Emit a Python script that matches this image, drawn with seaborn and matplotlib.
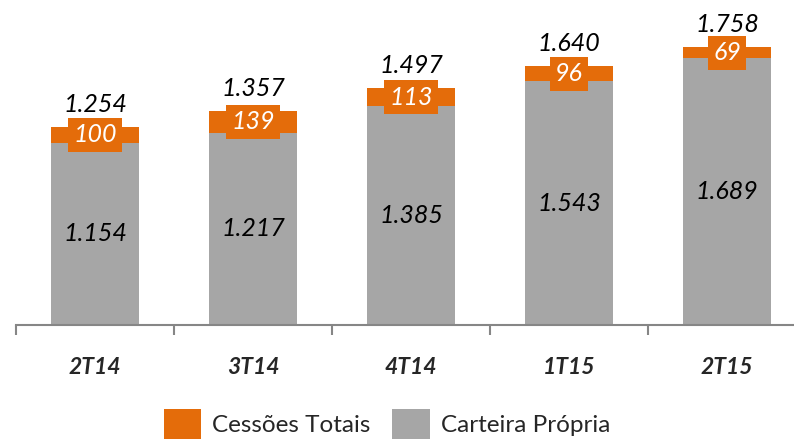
import matplotlib
matplotlib.use("Agg")
import matplotlib.pyplot as plt
import seaborn as sns
import pandas as pd
from matplotlib.patches import Patch

categories = ["2T14", "3T14", "4T14", "1T15", "2T15"]
carteira_propria = [1154, 1217, 1385, 1543, 1689]
cessoes_totais = [100, 139, 113, 96, 69]
totais = [1254, 1357, 1497, 1640, 1758]

ORANGE = "#E46C0A"
GREY = "#A6A6A6"
AXIS = "#868686"

sns.set_theme(style="white")
plt.rcParams["font.family"] = ["Lato", "DejaVu Sans"]

def fmt(v):
    return f"{v:,}".replace(",", ".")

df = pd.DataFrame({"cat": categories, "carteira": carteira_propria,
                   "cessoes": cessoes_totais, "total": totais})
df["stack"] = df["carteira"] + df["cessoes"]

fig = plt.figure(figsize=(7.94, 4.40), dpi=100)
px_per_unit = 198 / 1254
ymax = 2000
h_px = ymax * px_per_unit
ax = fig.add_axes([16 / 794, 115 / 440, 790 / 794, h_px / 440])

sns.barplot(data=df, x="cat", y="stack", color=ORANGE, width=0.557,
            saturation=1, ax=ax, edgecolor="none")
sns.barplot(data=df, x="cat", y="carteira", color=GREY, width=0.557,
            saturation=1, ax=ax, edgecolor="none")

ax.set_xlim(-0.5, 4.5)
ax.set_ylim(0, ymax)
ax.set_xlabel("")
ax.set_ylabel("")
ax.set_yticks([])
for s in ["top", "right", "left"]:
    ax.spines[s].set_visible(False)
ax.spines["bottom"].set_color(AXIS)
ax.spines["bottom"].set_linewidth(1.5)

ax.set_xticks(range(len(categories)))
ax.set_xticklabels(categories, fontsize=16.5, fontweight="bold", fontstyle="italic")
ax.tick_params(axis="x", which="major", length=0, pad=23)
ax.set_xticks([i - 0.5 for i in range(len(categories) + 1)], minor=True)
ax.tick_params(axis="x", which="minor", length=7, width=1.5, color=AXIS,
               direction="out", bottom=True)

for i, row in df.iterrows():
    ax.text(i, row["carteira"] / 2, fmt(row["carteira"]), ha="center", va="center",
            fontsize=18, fontstyle="italic", color="black")
    ax.text(i, row["carteira"] + row["cessoes"] / 2, fmt(row["cessoes"]),
            ha="center", va="center", fontsize=18, fontstyle="italic", color="white",
            bbox=dict(boxstyle="square,pad=0.22", facecolor=ORANGE, edgecolor="none"))
    ax.annotate(fmt(row["total"]), (i, row["stack"]), xytext=(0, 11),
                textcoords="offset points", ha="center", va="baseline",
                fontsize=18, fontstyle="italic", color="black")

handles = [Patch(facecolor=ORANGE, edgecolor="none", label="Cessões Totais"),
           Patch(facecolor=GREY, edgecolor="none", label="Carteira Própria")]
fig.legend(handles=handles, loc="center", bbox_to_anchor=(387 / 794, 1 - 424 / 440),
           ncol=2, frameon=False, fontsize=17.5, handlelength=1.55, handleheight=1.5,
           handletextpad=0.45, columnspacing=0.9, borderpad=0)

fig.savefig("out.png", dpi=100)
